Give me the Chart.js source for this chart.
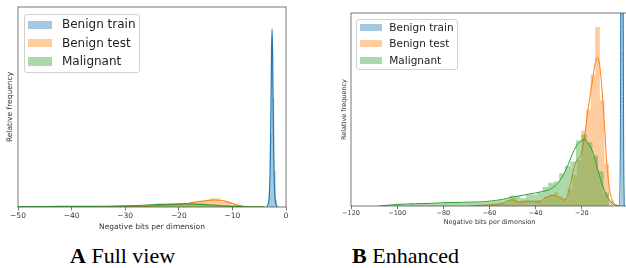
<!DOCTYPE html>
<html>
<head>
<meta charset="utf-8">
<script src="https://cdn.jsdelivr.net/npm/chart.js@4.4.1/dist/chart.umd.min.js"></script>
<style>
    body { margin: 0; width: 626px; height: 268px; overflow: hidden; background: #fff; position: relative; font-family: "DejaVu Sans", sans-serif; }
    canvas { position: absolute; top: 0; }
    #chartA { left: 0; }
    #chartB { left: 330px; }
    .legend { position: absolute; border: 1px solid #d0d0d0; border-radius: 3px; background: rgba(255,255,255,0.8); box-sizing: border-box; color: #222; }
    .legend .item { position: absolute; left: 0; white-space: nowrap; }
    .legend .patch { position: absolute; }
    .legend .text { position: absolute; line-height: 1; }
    .caption { position: absolute; top: 244.6px; font-family: "Liberation Serif", serif; font-size: 22px; line-height: 22px; color: #000; white-space: nowrap; }
</style>
</head>
<body>
<canvas id="chartA" width="300" height="235"></canvas>
<canvas id="chartB" width="302" height="232"></canvas>
<div id="legendA" class="legend" style="left:24px; top:14px; width:116px; height:59px;"></div>
<div id="legendB" class="legend" style="left:356px; top:18.7px; width:102px; height:51.5px;"></div>
<div class="caption" style="left:70px;"><b>A</b> Full view</div>
<div class="caption" style="left:352px;"><b>B</b> Enhanced</div>

<script>
// series names
const labels = ['Benign train', 'Benign test', 'Malignant'];

// histograms (relative frequency, same units in both panels)
const trainBinStart = -3.2;
const trainBinWidth = 0.25;
const trainHist = [1.5, 8, 17, 12, 4, 0.8];

const testBinStart = -66.2;
const testBinWidth = 2;
const testHist = [0.005, 0, 0.005, 0.005, 0.01, 0.01, 0.015, 0.03, 0.04, 0.025,
                  0.03, 0.03, 0.025, 0.03, 0.03, 0.05, 0.06, 0.07, 0.05, 0.04,
                  0.09, 0.16, 0.24, 0.39, 0.5, 0.68, 0.927, 0.548, 0.22, 0.03];

const malBinStart = -106.6;
const malBinWidth = 2.4;
const malHist = [0.003, 0.005, 0.005, 0.008, 0.008, 0.01, 0.01, 0.012, 0.012, 0.012,
                 0.013, 0.02, 0.02, 0.015, 0.015, 0.016, 0.018, 0.018, 0.02, 0.022,
                 0.025, 0.03, 0.035, 0.055, 0.05, 0.04, 0.06, 0.06, 0.07, 0.098,
                 0.12, 0.127, 0.17, 0.207, 0.23, 0.34, 0.37, 0.33, 0.26, 0.18, 0.07];

// density curves
const trainKdeX = [-3.6, -3.3, -3.1, -2.95, -2.8, -2.7, -2.6, -2.5, -2.4, -2.25, -2.1, -1.9, -1.6];
const trainKdeY = [0, 0.4, 1.5, 4.5, 11, 17, 19.6, 17, 11, 4.5, 1.5, 0.4, 0];

const testKdeX = [-68, -63, -58, -54, -50.5, -47, -44, -41, -39, -36, -33, -30, -27.7, -26.5,
                  -25.2, -23.7, -22.3, -20.5, -18.7, -17.3, -15.8, -13.9, -13.2, -12.4, -11.5,
                  -10, -9.3, -7.9, -6.4, -5, -4];
const testKdeY = [0, 0.004, 0.008, 0.015, 0.032, 0.02, 0.022, 0.025, 0.02, 0.04, 0.055, 0.045, 0.03, 0.045,
                  0.1, 0.18, 0.235, 0.26, 0.37, 0.5, 0.62, 0.755, 0.77, 0.74, 0.64,
                  0.38, 0.24, 0.08, 0.02, 0.004, 0];

const malKdeX = [-108, -104, -100, -92, -85, -80, -72, -65, -60, -55, -50, -45, -40, -37, -34,
                 -31.5, -29.5, -26.6, -23.7, -21.5, -19, -17, -15, -13, -10.8, -8.6, -6.4, -4];
const malKdeY = [0, 0.004, 0.008, 0.012, 0.014, 0.017, 0.019, 0.021, 0.025, 0.033, 0.046, 0.057, 0.068, 0.075, 0.085,
                 0.105, 0.132, 0.195, 0.28, 0.325, 0.344, 0.32, 0.27, 0.184, 0.098, 0.04, 0.01, 0.001];

const colors = [[31, 119, 180], [255, 127, 14], [44, 160, 44]];
const rgba = (c, a) => 'rgba(' + c[0] + ',' + c[1] + ',' + c[2] + ',' + a + ')';

function histPoints(start, width, heights) {
    const pts = heights.map((h, i) => ({ x: start + i * width, y: h }));
    pts.push({ x: start + heights.length * width, y: 0 });
    return pts;
}

function kdePoints(xs, ys) {
    return xs.map((x, i) => ({ x: x, y: ys[i] }));
}

function buildDatasets(lw) {
    const hists = [
        histPoints(trainBinStart, trainBinWidth, trainHist),
        histPoints(testBinStart, testBinWidth, testHist),
        histPoints(malBinStart, malBinWidth, malHist)
    ];
    const kdes = [
        kdePoints(trainKdeX, trainKdeY),
        kdePoints(testKdeX, testKdeY),
        kdePoints(malKdeX, malKdeY)
    ];
    const sets = [];
    // drawn like seaborn: hist then kde for each series, last series on top
    for (let i = 0; i < 3; i++) {
        sets.push({
            label: labels[i], data: hists[i], stepped: true, fill: 'origin',
            backgroundColor: rgba(colors[i], 0.4), borderColor: 'rgba(0,0,0,0)', borderWidth: 0,
            pointRadius: 0, order: 6 - i * 2
        });
        sets.push({
            label: labels[i] + ' kde', data: kdes[i], fill: false,
            borderColor: rgba(colors[i], 1), borderWidth: lw,
            pointRadius: 0, cubicInterpolationMode: 'monotone', order: 5 - i * 2
        });
    }
    return sets;
}

const spines = {
    id: 'spines',
    afterDatasetsDraw(chart) {
        const a = chart.chartArea;
        const ctx = chart.ctx;
        ctx.save();
        ctx.strokeStyle = '#555';
        ctx.lineWidth = 0.8;
        ctx.strokeRect(a.left, a.top, a.right - a.left, a.bottom - a.top);
        ctx.restore();
    }
};

const minusFmt = v => (v < 0 ? '\u2212' + Math.abs(v) : String(v));

function makeChart(id, p) {
    new Chart(document.getElementById(id), {
        type: 'line',
        data: { datasets: buildDatasets(p.lw) },
        plugins: [spines],
        options: {
            responsive: false,
            animation: false,
            layout: { padding: { left: 0, top: p.top, right: p.right, bottom: 0 } },
            plugins: { legend: { display: false }, tooltip: { enabled: false } },
            scales: {
                x: {
                    type: 'linear', min: p.xmin, max: p.xmax,
                    afterFit: s => { s.height = p.xh; },
                    ticks: {
                        stepSize: p.step, autoSkip: false, maxRotation: 0, padding: p.tickPad,
                        color: '#333', font: { family: 'DejaVu Sans', size: p.font },
                        callback: minusFmt
                    },
                    grid: { display: true, drawOnChartArea: false, drawTicks: true, tickLength: p.tickLen, color: '#555', lineWidth: 0.8 },
                    border: { display: false },
                    title: {
                        display: true, text: 'Negative bits per dimension', color: '#333',
                        font: { family: 'DejaVu Sans', size: p.font }, padding: { top: 0, bottom: p.xTitlePad }
                    }
                },
                y: {
                    min: 0, max: p.ymax,
                    afterFit: s => { s.width = p.yw; },
                    ticks: { display: false },
                    grid: { display: false },
                    border: { display: false },
                    title: {
                        display: true, text: 'Relative frequency', color: '#333',
                        font: { family: 'DejaVu Sans', size: p.font }, padding: { top: p.yTitlePad, bottom: 0 }
                    }
                }
            }
        }
    });
}

makeChart('chartA', { lw: 1.2, top: 7, right: 14, xmin: -50, xmax: 0, step: 10, xh: 28, yw: 18, ymax: 22,
                      font: 7.5, tickPad: 1.5, tickLen: 3.5, xTitlePad: 3.8, yTitlePad: 5.5 });
makeChart('chartB', { lw: 1, top: 13, right: 4, xmin: -120, xmax: 0, step: 20, xh: 26, yw: 21, ymax: 1,
                      font: 6.5, tickPad: 0, tickLen: 3.3, xTitlePad: 6.1, yTitlePad: 10.1 });

// legends (matplotlib style, inside the axes)
function makeLegend(id, p) {
    const box = document.getElementById(id);
    labels.forEach((name, i) => {
        const patch = document.createElement('div');
        patch.className = 'patch';
        patch.style.cssText = 'left:' + p.px + 'px; top:' + (p.y0 + i * p.dy - p.ph / 2) + 'px; width:' + p.pw +
            'px; height:' + p.ph + 'px; background:' + rgba(colors[i], 0.4) + ';';
        box.appendChild(patch);
        const text = document.createElement('div');
        text.className = 'text';
        text.textContent = name;
        text.style.cssText = 'left:' + p.tx + 'px; top:' + (p.y0 + i * p.dy - p.fs * 0.55) + 'px; font-size:' + p.fs + 'px;';
        box.appendChild(text);
    });
}

makeLegend('legendA', { px: 3, pw: 24, ph: 8.4, tx: 37, y0: 9.7, dy: 18.4, fs: 12 });
makeLegend('legendB', { px: 3, pw: 21.5, ph: 7.4, tx: 32.3, y0: 7.6, dy: 16.5, fs: 10.5 });
</script>
</body>
</html>
